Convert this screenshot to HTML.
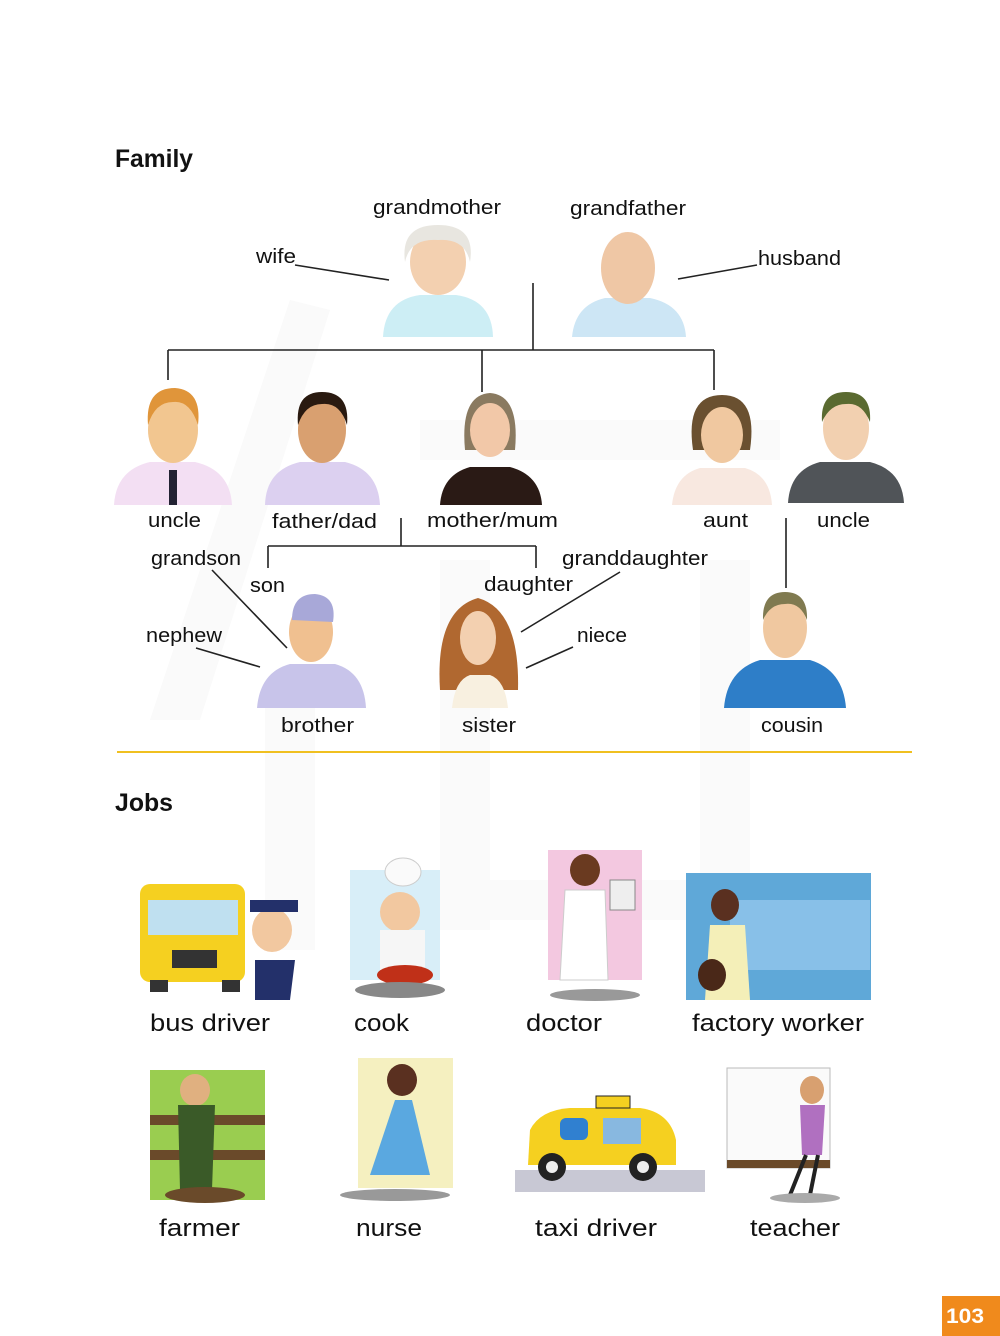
<!DOCTYPE html>
<html><head><meta charset="utf-8"><style>
html,body{margin:0;padding:0;background:#fff;}
svg{display:block}
text{font-family:"Liberation Sans",sans-serif;fill:#111;}
.l{font-size:20px}
.j{font-size:24px}
</style></head><body>
<svg width="1000" height="1336" viewBox="0 0 1000 1336" xmlns="http://www.w3.org/2000/svg">
<rect width="1000" height="1336" fill="#fff"/>
<g fill="#fafafa">
<path d="M150 720 L290 300 L330 310 L200 720Z"/>
<rect x="265" y="700" width="50" height="250"/>
<rect x="420" y="420" width="360" height="40"/>
<rect x="440" y="560" width="50" height="370"/>
<rect x="700" y="560" width="50" height="370"/>
<rect x="440" y="880" width="310" height="40"/>
</g>
<g lengthAdjust="spacingAndGlyphs">
<text x="115" y="167" font-size="25" font-weight="bold" textLength="78" lengthAdjust="spacingAndGlyphs">Family</text>
<text x="115" y="811" font-size="25" font-weight="bold" textLength="58" lengthAdjust="spacingAndGlyphs">Jobs</text>
</g>

<g stroke="#222" stroke-width="1.6" fill="none">
<path d="M533 283 V350 M168 350 H714 M168 350 V380 M482 350 V392 M714 350 V390"/>
<path d="M401 518 V546 M268 546 H536 M268 546 V568 M536 546 V568"/>
<path d="M786 518 V588"/>
<path d="M295 265 L389 280 M678 279 L757 265 M212 570 L287 648 M196 648 L260 667 M620 572 L521 632 M573 647 L526 668"/>
</g>
<line x1="117" y1="752" x2="912" y2="752" stroke="#f0c020" stroke-width="2"/>

<g>
<path d="M383 337 Q385 300 420 295 L456 295 Q492 300 493 337Z" fill="#cdeef5"/>
<ellipse cx="438" cy="262" rx="28" ry="33" fill="#f3d0b0"/>
<path d="M405 262 Q400 225 438 225 Q476 225 470 262 Q465 238 438 240 Q410 238 405 262Z" fill="#e8e6e0"/>
<path d="M572 337 Q575 305 605 298 L650 298 Q684 305 686 337Z" fill="#cde6f5"/>
<ellipse cx="628" cy="268" rx="27" ry="36" fill="#efc7a5"/>
<path d="M114 505 Q116 470 150 462 L195 462 Q230 470 232 505Z" fill="#f3dff3"/>
<rect x="169" y="470" width="8" height="35" fill="#223"/>
<ellipse cx="173" cy="430" rx="25" ry="33" fill="#f2c690"/>
<path d="M148 425 Q145 388 175 388 Q202 390 198 425 Q190 400 173 402 Q155 402 148 425Z" fill="#e0953a"/>
<path d="M265 505 Q266 470 300 462 L345 462 Q378 470 380 505Z" fill="#dcd0f0"/>
<ellipse cx="322" cy="430" rx="24" ry="33" fill="#d9a070"/>
<path d="M298 425 Q295 392 322 392 Q350 392 347 425 Q340 402 322 404 Q305 404 298 425Z" fill="#2a1a10"/>
<path d="M440 505 Q442 475 470 467 L510 467 Q540 475 542 505Z" fill="#2a1a15"/>
<path d="M465 450 Q460 395 490 393 Q520 395 515 450Z" fill="#8a7a60"/>
<ellipse cx="490" cy="430" rx="20" ry="27" fill="#f2c8a8"/>
<path d="M672 505 Q675 475 700 468 L745 468 Q770 475 772 505Z" fill="#f8e8e0"/>
<path d="M693 450 Q685 395 722 395 Q758 395 750 450Z" fill="#6a5030"/>
<ellipse cx="722" cy="435" rx="21" ry="28" fill="#f0c8a0"/>
<path d="M788 503 Q790 470 820 462 L870 462 Q902 470 904 503Z" fill="#505458"/>
<ellipse cx="846" cy="428" rx="23" ry="32" fill="#f2d0b0"/>
<path d="M822 422 Q820 392 846 392 Q872 392 870 422 Q862 402 846 404 Q830 404 822 422Z" fill="#5a6a30"/>
<path d="M257 708 Q260 672 290 664 L335 664 Q364 672 366 708Z" fill="#c8c4ea"/>
<ellipse cx="311" cy="632" rx="22" ry="30" fill="#f0c090"/>
<path d="M292 620 Q292 594 315 594 Q337 596 333 622Z" fill="#a8a8d8"/>
<path d="M440 690 Q435 610 478 598 Q520 610 518 690Z" fill="#b06830"/>
<path d="M452 708 Q455 680 470 675 L490 675 Q505 680 508 708Z" fill="#f8f0e0"/>
<ellipse cx="478" cy="638" rx="18" ry="27" fill="#f3d0b0"/>
<path d="M724 708 Q727 670 760 660 L810 660 Q843 670 846 708Z" fill="#2e7ec8"/>
<ellipse cx="785" cy="628" rx="22" ry="30" fill="#f0c8a0"/>
<path d="M763 620 Q762 592 785 592 Q808 592 807 620 Q800 602 785 604 Q770 604 763 620Z" fill="#807a50"/>
</g>

<text class="l" x="373" y="214" textLength="128" lengthAdjust="spacingAndGlyphs">grandmother</text>
<text class="l" x="570" y="215" textLength="116" lengthAdjust="spacingAndGlyphs">grandfather</text>
<text class="l" x="256" y="263" textLength="40" lengthAdjust="spacingAndGlyphs">wife</text>
<text class="l" x="758" y="265" textLength="83" lengthAdjust="spacingAndGlyphs">husband</text>
<text class="l" x="148" y="527" textLength="53" lengthAdjust="spacingAndGlyphs">uncle</text>
<text class="l" x="272" y="528" textLength="105" lengthAdjust="spacingAndGlyphs">father/dad</text>
<text class="l" x="427" y="527" textLength="131" lengthAdjust="spacingAndGlyphs">mother/mum</text>
<text class="l" x="703" y="527" textLength="45" lengthAdjust="spacingAndGlyphs">aunt</text>
<text class="l" x="817" y="527" textLength="53" lengthAdjust="spacingAndGlyphs">uncle</text>
<text class="l" x="151" y="565" textLength="90" lengthAdjust="spacingAndGlyphs">grandson</text>
<text class="l" x="562" y="565" textLength="146" lengthAdjust="spacingAndGlyphs">granddaughter</text>
<text class="l" x="250" y="592" textLength="35" lengthAdjust="spacingAndGlyphs">son</text>
<text class="l" x="484" y="591" textLength="89" lengthAdjust="spacingAndGlyphs">daughter</text>
<text class="l" x="146" y="642" textLength="76" lengthAdjust="spacingAndGlyphs">nephew</text>
<text class="l" x="577" y="642" textLength="50" lengthAdjust="spacingAndGlyphs">niece</text>
<text class="l" x="281" y="732" textLength="73" lengthAdjust="spacingAndGlyphs">brother</text>
<text class="l" x="462" y="732" textLength="54" lengthAdjust="spacingAndGlyphs">sister</text>
<text class="l" x="761" y="732" textLength="62" lengthAdjust="spacingAndGlyphs">cousin</text>

<g>
<rect x="140" y="884" width="105" height="98" rx="10" fill="#f5d020"/>
<rect x="148" y="900" width="90" height="35" fill="#bfe0f0"/>
<rect x="172" y="950" width="45" height="18" fill="#333"/>
<rect x="150" y="980" width="18" height="12" fill="#333"/><rect x="222" y="980" width="18" height="12" fill="#333"/>
<path d="M255 960 L295 960 L290 1000 L255 1000Z" fill="#23306a"/>
<ellipse cx="272" cy="930" rx="20" ry="22" fill="#f2c8a0"/>
<rect x="250" y="900" width="48" height="12" fill="#23306a"/>
<rect x="350" y="870" width="90" height="110" fill="#d8eef8"/>
<ellipse cx="403" cy="872" rx="18" ry="14" fill="#fafafa" stroke="#ccc"/>
<ellipse cx="400" cy="912" rx="20" ry="20" fill="#f2c8a0"/>
<rect x="380" y="930" width="45" height="40" fill="#f6f6f6"/>
<ellipse cx="405" cy="975" rx="28" ry="10" fill="#c03018"/>
<ellipse cx="400" cy="990" rx="45" ry="8" fill="#888"/>
<rect x="548" y="850" width="94" height="130" fill="#f3c8e0"/>
<ellipse cx="585" cy="870" rx="15" ry="16" fill="#6a3a20"/>
<path d="M565 890 L605 890 L608 980 L560 980Z" fill="#fff" stroke="#ccc"/>
<rect x="610" y="880" width="25" height="30" fill="#eee" stroke="#888"/>
<ellipse cx="595" cy="995" rx="45" ry="6" fill="#999"/>
<rect x="686" y="873" width="185" height="127" fill="#5fa8d8"/>
<rect x="730" y="900" width="140" height="70" fill="#88c0e8"/>
<ellipse cx="725" cy="905" rx="14" ry="16" fill="#5a3020"/>
<path d="M710 925 L745 925 L750 1000 L705 1000Z" fill="#f4efb8"/>
<ellipse cx="712" cy="975" rx="14" ry="16" fill="#4a2818"/>
<rect x="150" y="1070" width="115" height="130" fill="#9acd50"/>
<rect x="150" y="1115" width="115" height="10" fill="#6a4a2a"/>
<rect x="150" y="1150" width="115" height="10" fill="#6a4a2a"/>
<ellipse cx="195" cy="1090" rx="15" ry="16" fill="#e0b080"/>
<path d="M178 1105 L215 1105 L212 1190 L180 1190Z" fill="#3a5a28"/>
<ellipse cx="205" cy="1195" rx="40" ry="8" fill="#6a4a2a"/>
<rect x="358" y="1058" width="95" height="130" fill="#f5f0c0"/>
<ellipse cx="402" cy="1080" rx="15" ry="16" fill="#5a3020"/>
<path d="M395 1100 L412 1100 L430 1175 L370 1175Z" fill="#5aa8e0"/>
<ellipse cx="395" cy="1195" rx="55" ry="6" fill="#999"/>
<rect x="515" y="1170" width="190" height="22" fill="#c8c8d4"/>
<path d="M528 1165 L530 1130 Q540 1110 570 1108 L640 1108 Q670 1112 676 1140 L676 1165Z" fill="#f5d020"/>
<rect x="596" y="1096" width="34" height="12" fill="#f5d020" stroke="#222"/>
<rect x="560" y="1118" width="28" height="22" rx="6" fill="#3080d0"/>
<rect x="603" y="1118" width="38" height="26" fill="#88b8e0"/>
<circle cx="552" cy="1167" r="14" fill="#222"/><circle cx="552" cy="1167" r="6" fill="#eee"/>
<circle cx="643" cy="1167" r="14" fill="#222"/><circle cx="643" cy="1167" r="6" fill="#eee"/>
<rect x="727" y="1068" width="103" height="100" fill="#fafafa" stroke="#bbb"/>
<rect x="727" y="1160" width="103" height="8" fill="#6a4a2a"/>
<ellipse cx="812" cy="1090" rx="12" ry="14" fill="#d8a070"/>
<path d="M800 1105 L825 1105 L822 1155 L802 1155Z" fill="#b070c0"/>
<path d="M806 1155 L790 1195 M818 1155 L810 1195" stroke="#222" stroke-width="4"/>
<ellipse cx="805" cy="1198" rx="35" ry="5" fill="#aaa"/>
</g>

<text class="j" x="150" y="1031" textLength="120" lengthAdjust="spacingAndGlyphs">bus driver</text>
<text class="j" x="354" y="1031" textLength="55" lengthAdjust="spacingAndGlyphs">cook</text>
<text class="j" x="526" y="1031" textLength="76" lengthAdjust="spacingAndGlyphs">doctor</text>
<text class="j" x="692" y="1031" textLength="172" lengthAdjust="spacingAndGlyphs">factory worker</text>
<text class="j" x="159" y="1236" textLength="81" lengthAdjust="spacingAndGlyphs">farmer</text>
<text class="j" x="356" y="1236" textLength="66" lengthAdjust="spacingAndGlyphs">nurse</text>
<text class="j" x="535" y="1236" textLength="122" lengthAdjust="spacingAndGlyphs">taxi driver</text>
<text class="j" x="750" y="1236" textLength="90" lengthAdjust="spacingAndGlyphs">teacher</text>

<rect x="942" y="1296" width="58" height="40" fill="#f08a1c"/>
<text x="946" y="1323" font-size="21" font-weight="bold" style="fill:#fff" textLength="38" lengthAdjust="spacingAndGlyphs">103</text>
</svg>
</body></html>
